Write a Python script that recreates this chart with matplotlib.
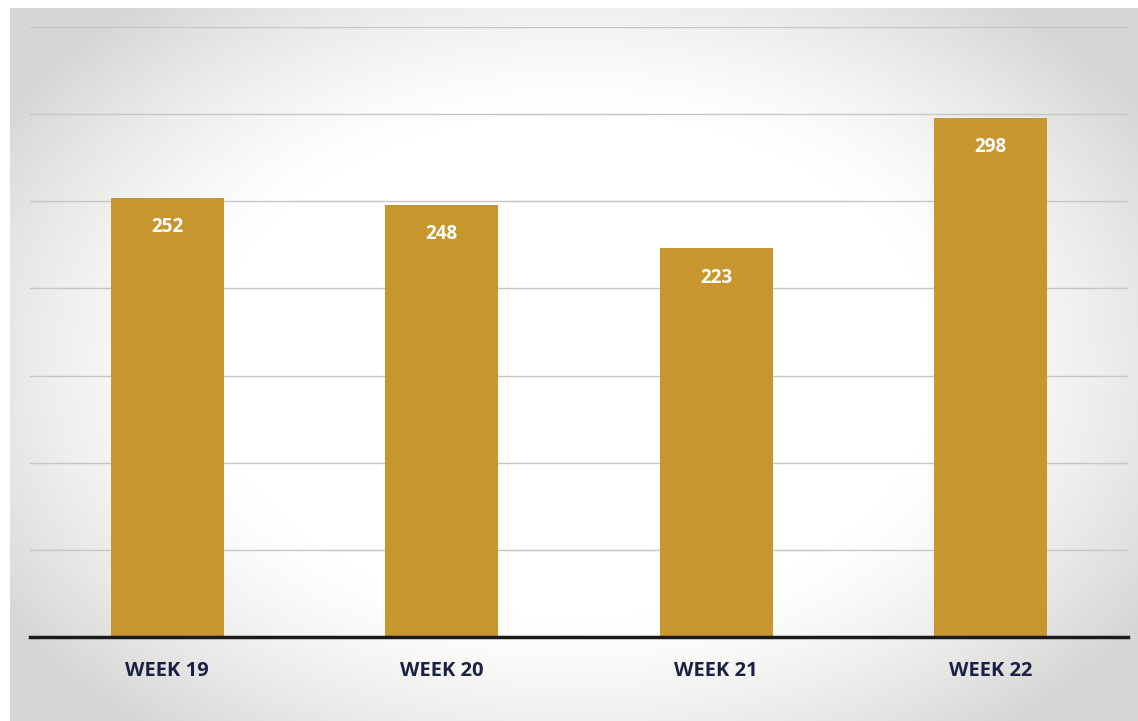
import numpy as np
import matplotlib.pyplot as plt

# data
weeks = ['WEEK 19', 'WEEK 20', 'WEEK 21', 'WEEK 22']
counts = [252, 248, 223, 298]

bar_color = '#C8962E'
label_color = '#1B2145'

fig = plt.figure(figsize=(11.38, 7.21), dpi=100)
fig.patch.set_facecolor('white')

# scanned-looking grey vignette behind the chart
bg = fig.add_axes([10 / 1138, 0, 1 - 10 / 1138, 1 - 8 / 721])
yy, xx = np.mgrid[-1:1:300j, -1:1:500j]
r = np.sqrt((xx / 1.0) ** 2 + (yy / 1.1) ** 2)
shade = np.clip((r - 0.65) / 0.55, 0, 1) ** 1.3
level = 1 - 0.16 * shade
img = np.dstack([level, level, level * 0.995])
bg.imshow(img, aspect='auto', extent=[0, 1, 0, 1], interpolation='bilinear')
bg.axis('off')

ax = fig.add_axes([30 / 1138, (721 - 637) / 721, 1098 / 1138, (637 - 27) / 721])
ax.patch.set_alpha(0)

x = np.arange(len(weeks))
bars = ax.bar(x, counts, width=0.41, color=bar_color, zorder=2)

ax.set_xlim(-0.5, 3.5)
ax.set_ylim(0, 350)
ax.set_yticks(np.arange(50, 351, 50))
ax.yaxis.grid(True, color='#c6c6c6', linewidth=1.0, zorder=0)
ax.tick_params(axis='y', left=False, labelleft=False)
ax.tick_params(axis='x', bottom=False, pad=14)
ax.set_xticks(x)
ax.set_xticklabels(weeks, fontsize=14.5, fontweight='bold', color=label_color,
                   family=['Open Sans', 'DejaVu Sans'])

for side in ['top', 'right', 'left']:
    ax.spines[side].set_visible(False)
ax.spines['bottom'].set_linewidth(2.5)
ax.spines['bottom'].set_color('#1a1a1a')
ax.spines['bottom'].set_zorder(3)

for b, v in zip(bars, counts):
    ax.annotate(str(v), (b.get_x() + b.get_width() / 2, v), xytext=(0, -21),
                textcoords='offset points', ha='center', va='center',
                fontsize=13.5, fontweight='bold', color='white',
                family=['Open Sans', 'DejaVu Sans'], zorder=4)

fig.savefig('out.png', dpi=100)
